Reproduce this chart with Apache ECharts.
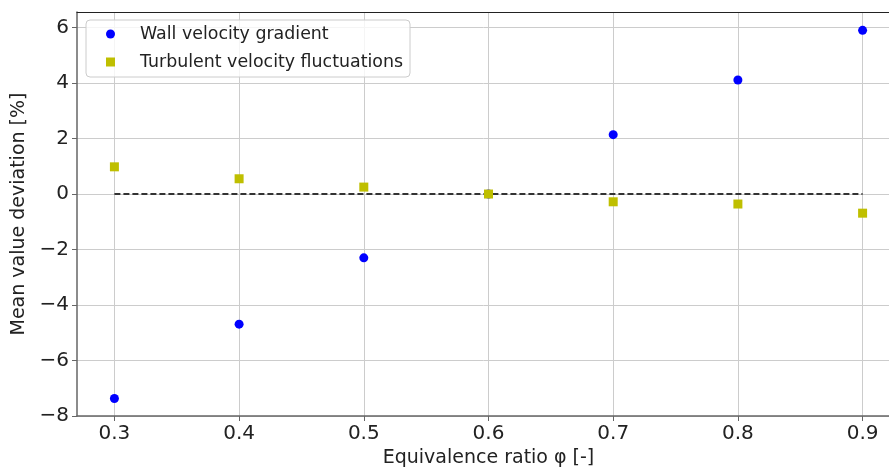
<!DOCTYPE html>
<html>
<head>
<meta charset="utf-8">
<script src="https://cdn.jsdelivr.net/npm/echarts@6/dist/echarts.min.js"></script>
<style>
  html, body { margin: 0; padding: 0; background: #fff; }
  #main { width: 889px; height: 470px; }
</style>
</head>
<body>
<div id="main"></div>
<script>
// equivalence ratios and deviations
var phi = [0.3, 0.4, 0.5, 0.6, 0.7, 0.8, 0.9]
var wallGradient = [-7.37, -4.69, -2.30, 0.0, 2.14, 4.11, 5.90]
var turbFluct = [0.98, 0.55, 0.25, 0.0, -0.28, -0.36, -0.69]
var xTicks = [0.3, 0.4, 0.5, 0.6, 0.7, 0.8, 0.9]
var yTicks = [-8, -6, -4, -2, 0, 2, 4, 6]

var font = 'DejaVu Sans'

function pairs(xs, ys) {
  return xs.map(function (x, i) { return [x, ys[i]] })
}

var myChart = echarts.init(document.getElementById('main'))

var option = {
  animation: false,
  backgroundColor: '#fff',
  textStyle: { fontFamily: font },
  // right edge of the axes sits past the canvas, like the cropped original
  grid: { left: 77, width: 823, top: 12, bottom: 54, outerBoundsMode: 'none' },
  legend: {
    orient: 'vertical',
    left: 86,
    top: 20,
    padding: [5, 7, 6, 20],
    itemGap: 10,
    itemWidth: 9,
    itemHeight: 9,
    backgroundColor: 'rgba(255,255,255,0.8)',
    borderColor: '#cccccc',
    borderWidth: 1,
    borderRadius: 4,
    textStyle: { fontFamily: font, fontSize: 17.4, color: '#222', lineHeight: 18, padding: [0, 0, 0, 20] },
    data: [
      { name: 'Wall velocity gradient', icon: 'circle' },
      { name: 'Turbulent velocity fluctuations', icon: 'rect' }
    ]
  },
  xAxis: [
    {
      type: 'value',
      min: 0.27,
      max: 0.93,
      name: 'Equivalence ratio φ [-]',
      nameLocation: 'middle',
      nameGap: 33,
      nameTextStyle: { fontFamily: font, fontSize: 19, color: '#222' },
      axisLine: { show: true, onZero: false, lineStyle: { color: '#666', width: 1.5 } },
      axisTick: { show: true, customValues: xTicks, length: 5, lineStyle: { color: '#666' } },
      axisLabel: {
        customValues: xTicks,
        fontFamily: font, fontSize: 20, color: '#222', margin: 8,
        formatter: function (v) { return v.toFixed(1) }
      },
      splitLine: { show: true, lineStyle: { color: '#cccccc', width: 1 } }
    },
    {
      type: 'value',
      position: 'top',
      min: 0.27,
      max: 0.93,
      axisLine: { show: true, onZero: false, lineStyle: { color: '#222', width: 1.2 } },
      axisTick: { show: false },
      axisLabel: { show: false },
      splitLine: { show: false }
    }
  ],
  yAxis: {
    type: 'value',
    min: -8,
    max: 6.56,
    name: 'Mean value deviation [%]',
    nameLocation: 'middle',
    nameGap: 47,
    nameTextStyle: { fontFamily: font, fontSize: 19, color: '#222' },
    axisLine: { show: true, onZero: false, lineStyle: { color: '#666', width: 1.5 } },
    axisTick: { show: true, customValues: yTicks, length: 5, lineStyle: { color: '#666' } },
    axisLabel: {
      customValues: yTicks,
      fontFamily: font, fontSize: 20, color: '#222', margin: 8,
      formatter: function (v) { return v < 0 ? '\u2212' + Math.abs(v) : String(v) }
    },
    splitLine: { show: true, lineStyle: { color: '#cccccc', width: 1 } }
  },
  series: [
    {
      name: 'zero',
      type: 'line',
      data: [[0.3, 0], [0.9, 0]],
      symbol: 'none',
      silent: true,
      lineStyle: { color: '#333', width: 2, type: [6, 3] },
      z: 1
    },
    {
      name: 'Wall velocity gradient',
      type: 'scatter',
      data: pairs(phi, wallGradient),
      symbol: 'circle',
      symbolSize: 9,
      itemStyle: { color: '#0000ff', opacity: 1 },
      z: 3
    },
    {
      name: 'Turbulent velocity fluctuations',
      type: 'scatter',
      data: pairs(phi, turbFluct),
      symbol: 'rect',
      symbolSize: 9,
      itemStyle: { color: '#bfbf00', opacity: 1 },
      z: 4
    }
  ]
}

myChart.setOption(option)
</script>
</body>
</html>
